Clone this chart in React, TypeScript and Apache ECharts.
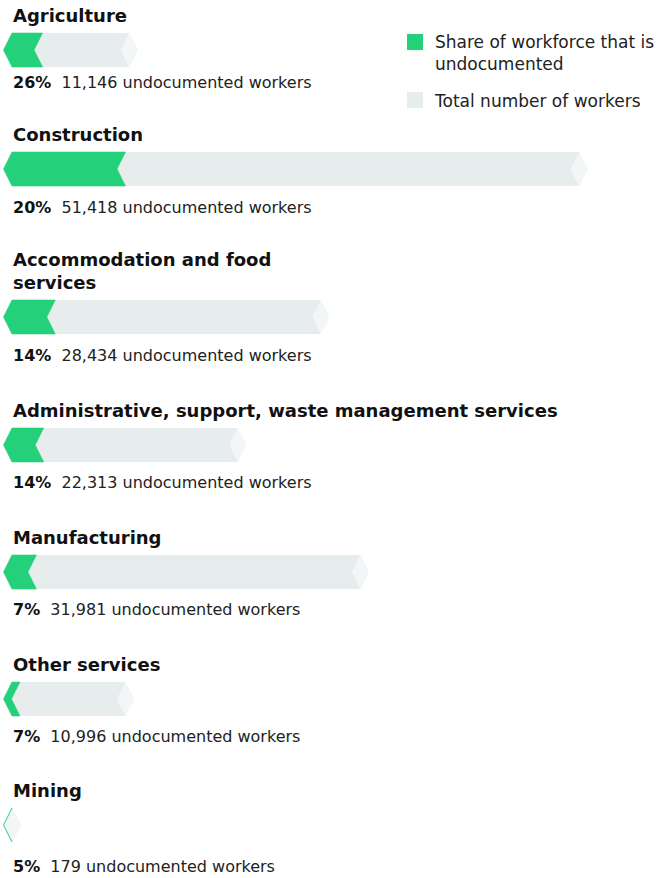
import React, { useEffect, useRef } from "react";
import * as echarts from "echarts";

const categories = [
  "Agriculture",
  "Construction",
  "Accommodation and food services",
  "Administrative, support, waste management services",
  "Manufacturing",
  "Other services",
  "Mining",
];
const titleLines = [
  ["Agriculture"],
  ["Construction"],
  ["Accommodation and food", "services"],
  ["Administrative, support, waste management services"],
  ["Manufacturing"],
  ["Other services"],
  ["Mining"],
];
// share of workforce that is undocumented (%)
const sharePct = [26, 20, 14, 14, 7, 7, 5];
// undocumented workers
const undocumented = [11146, 51418, 28434, 22313, 31981, 10996, 179];
// total number of workers bar length (same units as construction)
const totalWorkers = [10650, 51418, 28000, 20480, 31580, 10300, 60];

// layout
const barCenters = [50, 169, 317, 445, 572, 699, 825];
const captionYs = [82, 207, 355, 482, 609, 736, 866];
const FONT = "'DejaVu Sans', sans-serif";
const GREEN = "#25d07b";
const GREY = "#e7eced";
const LIGHT = "#f2f6f6";

const fmt = (n: number) => n.toLocaleString("en-US");

export default function App() {
  const ref = useRef<HTMLDivElement>(null);
  useEffect(() => {
    document.body.style.margin = "0";
    if (!ref.current) return;
    const chart = echarts.init(ref.current, null, { renderer: "svg" });
    const maxV = Math.max(...totalWorkers);
    const grids: any[] = [];
    const xAxes: any[] = [];
    const yAxes: any[] = [];
    const series: any[] = [];
    const graphics: any[] = [];
    categories.forEach((cat, i) => {
      grids.push({ left: 12, width: 567.5, top: barCenters[i] - 17, height: 34 });
      xAxes.push({ type: "value", gridIndex: i, min: 0, max: maxV, show: false });
      yAxes.push({ type: "category", gridIndex: i, data: [cat], show: false });
      series.push({
        type: "custom",
        xAxisIndex: i,
        yAxisIndex: i,
        encode: { x: 0, y: 1 },
        data: [[totalWorkers[i], 0, sharePct[i] / 100]],
        renderItem: (params: any, api: any) => {
          const total = api.value(0);
          const share = api.value(2);
          const p0 = api.coord([0, 0]);
          const pe = api.coord([total, 0]);
          const pg = api.coord([total * share, 0]);
          const h = api.size([0, 1])[1] / 2;
          const d = 8.5;
          const x0 = p0[0];
          const yc = p0[1];
          const xe = pe[0];
          const xg = pg[0];
          const chevron = (xr: number) => [
            [x0 - d, yc],
            [x0, yc - h],
            [xr, yc - h],
            [xr - d, yc],
            [xr, yc + h],
            [x0, yc + h],
          ];
          return {
            type: "group",
            children: [
              { type: "polygon", shape: { points: chevron(xe) }, style: { fill: GREY } },
              {
                type: "polygon",
                shape: { points: [[xe - d, yc], [xe, yc - h], [xe + d, yc], [xe, yc + h]] },
                style: { fill: LIGHT },
              },
              {
                type: "polygon",
                shape: { points: chevron(xg) },
                style: { fill: GREEN, stroke: GREEN, lineWidth: 0.6 },
              },
            ],
          };
        },
      });
      const lines = titleLines[i];
      lines.forEach((ln, j) => {
        graphics.push({
          type: "text",
          left: 13,
          top: barCenters[i] - 33 - (lines.length - 1 - j) * 23 - 11,
          style: { text: ln, font: `bold 18px ${FONT}`, fill: "#111111" },
        });
      });
      graphics.push({
        type: "text",
        left: 13,
        top: captionYs[i] - 8,
        style: {
          text: `{b|${sharePct[i]}%}  ${fmt(undocumented[i])} undocumented workers`,
          font: `16px ${FONT}`,
          fill: "#222222",
          rich: { b: { font: `bold 16px ${FONT}`, fill: "#111111" } },
        },
      });
    });
    // legend
    graphics.push(
      { type: "rect", shape: { x: 407, y: 34, width: 16, height: 16 }, style: { fill: GREEN } },
      { type: "rect", shape: { x: 407, y: 92, width: 16, height: 16 }, style: { fill: GREY } },
      {
        type: "text",
        left: 435,
        top: 31,
        style: { text: "Share of workforce that is\nundocumented", font: `17px ${FONT}`, lineHeight: 22, fill: "#222222" },
      },
      {
        type: "text",
        left: 435,
        top: 92,
        style: { text: "Total number of workers", font: `17px ${FONT}`, fill: "#222222" },
      }
    );
    chart.setOption({
      animation: false,
      grid: grids,
      xAxis: xAxes,
      yAxis: yAxes,
      series,
      graphic: graphics,
    });
    return () => chart.dispose();
  }, []);
  return <div ref={ref} style={{ width: 672, height: 878 }} />;
}
